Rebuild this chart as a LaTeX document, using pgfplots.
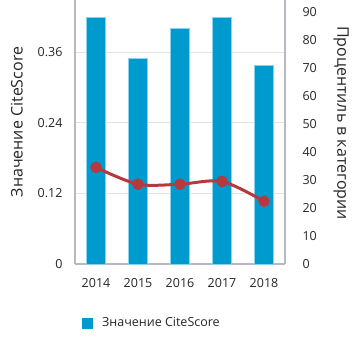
\documentclass[border=0pt]{standalone}
\usepackage{pgfplots}
\pgfplotsset{compat=1.18}
\usepackage{fontspec}
\setmainfont{Open Sans}
\definecolor{barblue}{HTML}{009BCE}
\definecolor{baredge}{HTML}{8AD3EE}
\definecolor{linered}{HTML}{B8383F}
\definecolor{spine}{HTML}{B8B8C0}
\definecolor{gridc}{HTML}{E2E2E2}
\begin{document}
\begin{tikzpicture}
\begin{axis}[
  scale only axis, width=210bp, height=264bp,
  at={(0,0)}, anchor=south west,
  xmin=-0.5, xmax=4.5, ymin=0, ymax=0.449,
  xtick={0,1,2,3,4}, xticklabels={2014,2015,2016,2017,2018},
  ytick={0,0.12,0.24,0.36},
  yticklabels={0,0.12,0.24,0.36},
  major tick length=0pt,
  axis x line*=bottom, axis y line*=left,
  axis line style={spine, line width=1.2bp},
  ymajorgrids, grid style={gridc, line width=1bp},
  tick label style={font=\fontsize{12.5bp}{15bp}\selectfont, text=black!85},
  /pgf/number format/assume math mode=true,
  yticklabel style={xshift=-9bp},
  xticklabel style={yshift=-11bp},
  ylabel={Значение CiteScore},
  ylabel style={font=\fontsize{16bp}{19bp}\selectfont, text=black!85, yshift=8bp, xshift=10bp},
  legend style={at={(rel axis cs:0,0)}, anchor=west, xshift=4bp, yshift=-59bp, draw=none, fill=none,
    font=\fontsize{12.5bp}{15bp}\selectfont, text=black!85},
  legend image code/.code={\fill[barblue, draw=none] (0bp,-5.5bp) rectangle (11bp,5.5bp);
    \path[draw=none, fill=none] (0bp,0bp) rectangle (18bp,0.1bp);},
  clip=false,
]
\addplot[ybar, bar width=19.5bp, fill=barblue, draw=baredge, line width=0.8bp]
  coordinates {(0,0.42) (1,0.35) (2,0.40) (3,0.42) (4,0.338)};
\addlegendentry{Значение CiteScore}
\end{axis}
\begin{axis}[
  scale only axis, width=210bp, height=264bp,
  at={(0,0)}, anchor=south west,
  xmin=-0.5, xmax=4.5, ymin=0, ymax=94.3,
  axis x line=none,
  axis y line*=right,
  axis line style={spine, line width=1.2bp},
  ytick={0,10,...,90},
  major tick length=0pt,
  tick label style={font=\fontsize{12.5bp}{15bp}\selectfont, text=black!85},
  /pgf/number format/assume math mode=true,
  yticklabel style={xshift=14bp},
  ylabel={Процентиль в категории},
  ylabel style={font=\fontsize{16bp}{19bp}\selectfont, text=black!85, rotate=180, yshift=10bp, xshift=-9bp},
  clip=false,
]
\addplot[linered, line width=3bp, smooth, tension=0.5, mark=*, mark size=5.5bp,
  mark options={fill=linered, draw=linered, line width=0.5bp}]
  coordinates {(0,34.5) (1,28.5) (2,28.5) (3,29.5) (4,22.4)};
\end{axis}
\pgfresetboundingbox
\path[use as bounding box] (-75bp,-86bp) rectangle (279bp,264bp);
\end{tikzpicture}
\end{document}
